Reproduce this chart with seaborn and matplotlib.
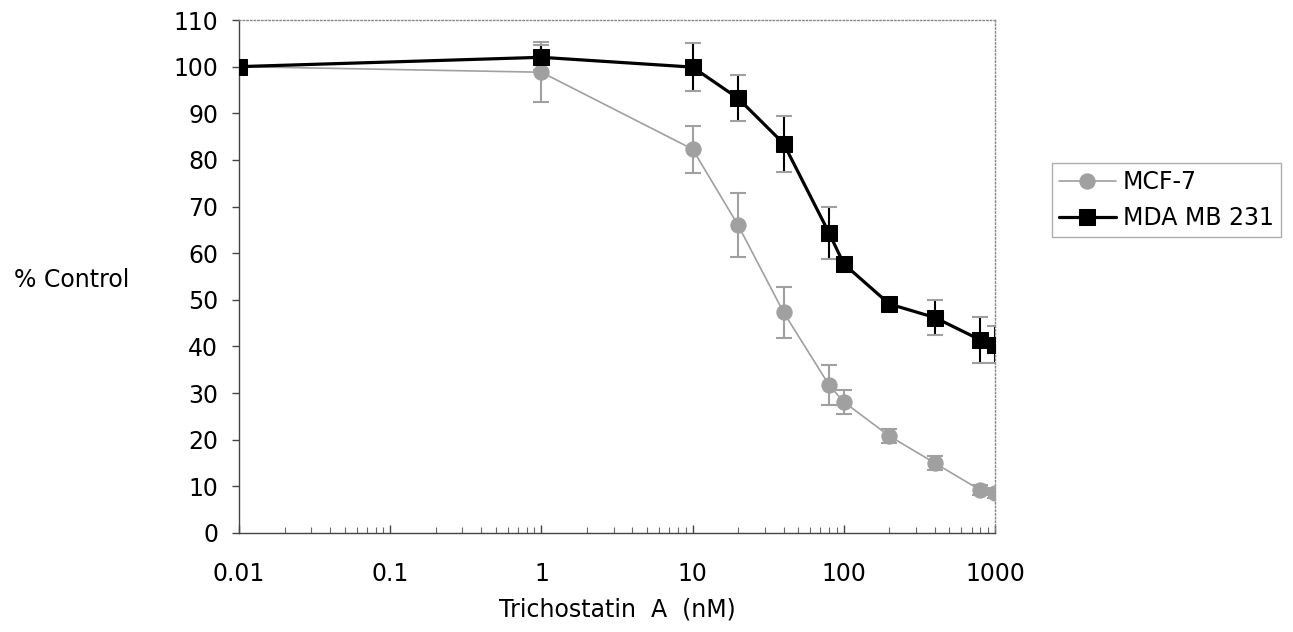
import numpy as np
import pandas as pd
import matplotlib
matplotlib.use("Agg")
import matplotlib.pyplot as plt
import seaborn as sns

# concentrations (nM); 0.01 stands for the untreated control
conc = [0.01, 1, 10, 20, 40, 80, 100, 200, 400, 800, 1000]

mcf7 = [100, 98.8, 82.3, 66, 47.3, 31.7, 28.1, 20.8, 15, 9.2, 8.6]
mcf7_err = [0, 6.4, 5.0, 6.8, 5.4, 4.3, 2.5, 1.5, 1.5, 1.0, 1.0]

mda = [100, 102, 99.9, 93.2, 83.5, 64.3, 57.7, 49.1, 46.2, 41.4, 40.4]
mda_err = [0, 2.7, 5.1, 4.9, 6.0, 5.6, 1.0, 0.8, 3.8, 4.9, 4.0]

df = pd.DataFrame({
    "conc": conc * 2,
    "pct": mcf7 + mda,
    "err": mcf7_err + mda_err,
    "line": ["MCF-7"] * len(conc) + ["MDA MB 231"] * len(conc),
})

sns.set_style("white")
plt.rcParams["font.family"] = ["DejaVu Sans"]
plt.rcParams["text.color"] = "black"
plt.rcParams["axes.labelcolor"] = "black"
plt.rcParams["xtick.labelcolor"] = "black"
plt.rcParams["ytick.labelcolor"] = "black"

fig = plt.figure(figsize=(12.93, 6.32), dpi=100)
ax = fig.add_axes([239 / 1293, 1 - 533 / 632, 756 / 1293, 513 / 632])

colors = {"MCF-7": "#a0a0a0", "MDA MB 231": "black"}
markers = {"MCF-7": "o", "MDA MB 231": "s"}

for name, sub in df.groupby("line"):
    ax.errorbar(sub["conc"], sub["pct"], yerr=sub["err"], fmt="none",
                ecolor=colors[name], elinewidth=1.5, capsize=5.5, capthick=1.5,
                zorder=2)

sns.lineplot(data=df, x="conc", y="pct", hue="line", style="line",
             palette=colors, markers=markers, dashes=False,
             hue_order=["MCF-7", "MDA MB 231"], markersize=12,
             linewidth=1.2, ax=ax, zorder=3)
for ln in ax.lines:
    if ln.get_color() == "black":
        ln.set_linewidth(2.3)
        ln.set_markeredgecolor("black")
    else:
        ln.set_markeredgecolor("#a0a0a0")
        ln.set_markersize(11)

ax.set_xscale("log")
ax.set_xlim(0.01, 1000)
ax.set_ylim(0, 110)
ax.set_yticks(range(0, 111, 10))
ax.set_xticks([0.01, 0.1, 1, 10, 100, 1000])
ax.set_xticklabels(["0.01", "0.1", "1", "10", "100", "1000"])

for s in ax.spines.values():
    s.set_color("#888888")
    s.set_linewidth(1)
    s.set_linestyle(":")
for side in ["left", "bottom"]:
    ax.spines[side].set_color("#444444")
    ax.spines[side].set_linestyle("-")

ax.tick_params(axis="y", which="major", left=True, length=5, width=1,
               color="#444444", labelsize=17, pad=10)
ax.tick_params(axis="x", which="major", bottom=True, direction="in", length=6,
               width=1, color="#444444", labelsize=17, pad=21)
ax.tick_params(axis="x", which="minor", bottom=True, direction="in", length=4,
               width=0.8, color="#666666")

ax.set_xlabel("Trichostatin  A  (nM)", fontsize=17, labelpad=8)
ax.set_ylabel("")
fig.text(72 / 1293, 1 - 280 / 632, "% Control", fontsize=17,
         ha="center", va="center")

handles, labels = ax.get_legend_handles_labels()
leg = ax.legend(handles, labels, loc="upper left",
                bbox_to_anchor=(1.0754, 0.721), fontsize=17, frameon=True,
                fancybox=False, edgecolor="#999999", handlelength=2.4,
                handletextpad=0.3, borderpad=0.3, borderaxespad=0,
                labelspacing=0.5)
leg.get_frame().set_linewidth(1)

fig.savefig("out.png", dpi=100)
